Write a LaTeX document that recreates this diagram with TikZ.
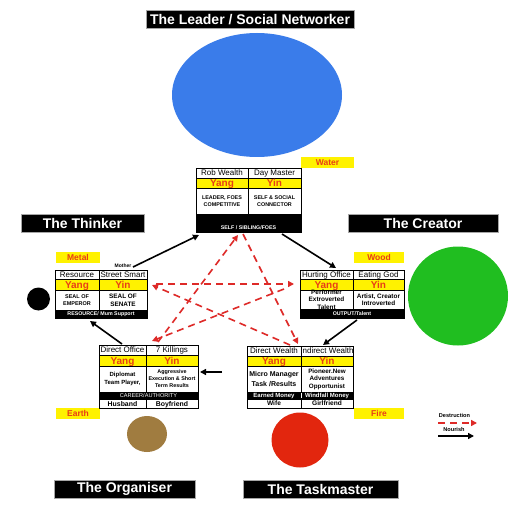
\documentclass[tikz,border=0pt]{standalone}
\usepackage{fontspec}
\setmainfont{Liberation Sans}
\usetikzlibrary{arrows.meta,shapes.geometric}
\definecolor{ylw}{RGB}{255,242,0}
\definecolor{redtxt}{RGB}{232,62,22}
\definecolor{bluec}{RGB}{58,124,234}
\definecolor{greenc}{RGB}{32,190,32}
\definecolor{brownc}{RGB}{160,124,64}
\definecolor{redc}{RGB}{226,38,14}
\definecolor{dashred}{RGB}{222,42,40}
\newcommand\fsz[2]{\fontsize{#1}{#2}\selectfont}
% #1 box style, #2 text style, #3 name, #4 x1, #5 y1, #6 x2, #7 y2, #8 text
\newcommand\tcell[8]{%
  \node[cellbox,#1,minimum width={(#6-#4)*1pt},minimum height={(#7-#5)*1pt}] (#3) at (#4,#5) {};
  \node[celltext,#2] (#3-t) at (#3.center) {#8};}
\tikzset{
  cellbox/.style={draw=black, line width=0.7pt, inner sep=0pt, outer sep=0pt, anchor=north west},
  celltext/.style={inner sep=0pt},
  ml/.style={align=center},
  one/.style={text height=#1, text depth=0pt},
  hdrt/.style={font=\fsz{8}{9}, one=5.8pt},
  yyt/.style={text=redtxt, font=\bfseries\fsz{10}{11}, one=7.2pt},
  foot/.style={text=white, font=\bfseries\fsz{5.3}{6}, one=3.8pt},
  title/.style={fill=black, draw=gray!70, line width=0.5pt, text=white, font=\bfseries\fsz{14}{16}, inner sep=0pt, minimum height=18.5pt},
  lab/.style={fill=ylw, text=redtxt, font=\bfseries\fsz{8.5}{10}, inner sep=0pt, minimum height=11pt},
  blob/.style={ellipse, inner sep=0pt, draw=none},
  nourish/.style={draw=black, line width=1.6pt, -{Triangle[length=6pt,width=6pt]}},
  destroy/.style={draw=dashred, line width=1.6pt, dash pattern=on 7pt off 5pt, -{Triangle[length=6pt,width=6pt]}},
  small/.style={font=\bfseries\fsz{5.6}{6.5}, inner sep=0pt}
}
\begin{document}
\begin{tikzpicture}[x=1pt,y=-1pt]
\fill[white] (0,0) rectangle (531,511);
\useasboundingbox (0,0) rectangle (531,511);

% titles
\node[title, minimum width=208pt] (t-leader) at (250,19.5) {The Leader / Social Networker};
\node[title, minimum width=123pt] (t-thinker) at (82.5,223) {The Thinker};
\node[title, minimum width=150pt] (t-creator) at (423,223) {The Creator};
\node[title, minimum width=141pt] (t-organiser) at (124.5,489) {The Organiser};
\node[title, minimum width=155pt] (t-taskmaster) at (320.5,489) {The Taskmaster};

% coloured blobs
\node[blob, fill=bluec, minimum width=170pt, minimum height=124pt] (c-blue) at (257,95) {};
\node[blob, fill=greenc, minimum width=100pt, minimum height=99pt] (c-green) at (458,296) {};
\node[blob, fill=black, minimum width=23pt, minimum height=23pt] (c-black) at (38.5,299) {};
\node[blob, fill=brownc, minimum width=40pt, minimum height=36pt] (c-brown) at (147,434) {};
\node[blob, fill=redc, minimum width=57pt, minimum height=55pt] (c-red) at (300,440) {};

% element labels
\node[lab, minimum width=53pt] (l-water) at (327.5,162.5) {Water};
\node[lab, minimum width=44pt] (l-metal) at (78,257.5) {Metal};
\node[lab, minimum width=50pt] (l-wood) at (379,257.5) {Wood};
\node[lab, minimum width=44pt] (l-earth) at (78,413.5) {Earth};
\node[lab, minimum width=50pt] (l-fire) at (379,413.5) {Fire};

% Water table
\tcell{}{hdrt}{w-h1}{196}{168}{248}{178}{Rob Wealth}
\tcell{}{hdrt}{w-h2}{248}{168}{301}{178}{Day Master}
\tcell{fill=ylw}{yyt}{w-y1}{196}{178}{248}{188}{Yang}
\tcell{fill=ylw}{yyt}{w-y2}{248}{178}{301}{188}{Yin}
\tcell{}{ml, font=\bfseries\fsz{5.4}{7}}{w-b1}{196}{188}{248}{214}{LEADER, FOES\\COMPETITIVE}
\tcell{}{ml, font=\bfseries\fsz{5.4}{7}}{w-b2}{248}{188}{301}{214}{SELF \& SOCIAL\\CONNECTOR}
\tcell{fill=black}{foot, yshift=-5pt}{w-f}{196}{214}{301}{232}{SELF / SIBLING/FOES}

% Metal table
\tcell{}{hdrt}{m-h1}{55}{270}{99}{279}{Resource}
\tcell{}{hdrt}{m-h2}{99}{270}{147}{279}{Street Smart}
\tcell{fill=ylw}{yyt}{m-y1}{55}{279}{99}{290}{Yang}
\tcell{fill=ylw}{yyt}{m-y2}{99}{279}{147}{290}{Yin}
\tcell{}{ml, font=\bfseries\fsz{5.5}{7}}{m-b1}{55}{290}{99}{310}{SEAL OF\\EMPEROR}
\tcell{}{ml, font=\bfseries\fsz{6.4}{7.6}}{m-b2}{99}{290}{147}{310}{SEAL OF\\SENATE}
\tcell{fill=black}{foot}{m-f}{55}{310}{147}{318}{RESOURCE/ Mum Support}
\node[font=\bfseries\fsz{5}{6}, inner sep=0pt] (mother) at (123,266) {Mother};

% Wood table
\tcell{}{hdrt}{o-h1}{300}{270}{353}{279}{Hurting Office}
\tcell{}{hdrt}{o-h2}{353}{270}{404}{279}{Eating God}
\tcell{fill=ylw}{yyt}{o-y1}{300}{279}{353}{290}{Yang}
\tcell{fill=ylw}{yyt}{o-y2}{353}{279}{404}{290}{Yin}
\tcell{}{ml, font=\bfseries\fsz{6.4}{7.5}}{o-b1}{300}{290}{353}{309}{Performer\\Extroverted\\Talent}
\tcell{}{ml, font=\bfseries\fsz{6.4}{7.5}}{o-b2}{353}{290}{404}{309}{Artist, Creator\\Introverted}
\tcell{fill=black}{foot}{o-f}{300}{309}{404}{318}{OUTPUT/Talent}

% Earth table
\tcell{}{hdrt}{e-h1}{99}{345}{146}{355}{Direct Office}
\tcell{}{hdrt}{e-h2}{146}{345}{198}{355}{7 Killings}
\tcell{fill=ylw}{yyt}{e-y1}{99}{355}{146}{366}{Yang}
\tcell{fill=ylw}{yyt}{e-y2}{146}{355}{198}{366}{Yin}
\tcell{}{ml, font=\bfseries\fsz{6}{7.2}}{e-b1}{99}{366}{146}{392}{Diplomat\\Team Player,}
\tcell{}{ml, font=\bfseries\fsz{5.4}{7}}{e-b2}{146}{366}{198}{392}{Aggressive\\Execution \& Short\\Term Results}
\tcell{fill=black}{text=white, font=\fsz{5.6}{6}, one=4pt}{e-f}{99}{392}{198}{399}{CAREER/AUTHORITY}
\tcell{}{font=\bfseries\fsz{6.9}{8}, one=5pt}{e-w1}{99}{399}{146}{408}{Husband}
\tcell{}{font=\bfseries\fsz{6.9}{8}, one=5pt}{e-w2}{146}{399}{198}{408}{Boyfriend}

% Fire table
\tcell{}{hdrt}{f-h1}{247}{346}{301}{356}{Direct Wealth}
\tcell{}{hdrt}{f-h2}{301}{346}{353}{356}{Indirect Wealth}
\tcell{fill=ylw}{yyt}{f-y1}{247}{356}{301}{366}{Yang}
\tcell{fill=ylw}{yyt}{f-y2}{301}{356}{353}{366}{Yin}
\tcell{}{ml, font=\bfseries\fsz{7}{9.5}}{f-b1}{247}{366}{301}{392}{Micro Manager\\Task /Results}
\tcell{}{ml, font=\bfseries\fsz{6.3}{7.5}}{f-b2}{301}{366}{353}{392}{Pioneer.New\\Adventures\\Opportunist}
\tcell{fill=black}{text=white, font=\bfseries\fsz{6}{7}, one=4.3pt}{f-f1}{247}{392}{301}{399}{Earned Money}
\tcell{fill=black}{text=white, font=\bfseries\fsz{6}{7}, one=4.3pt}{f-f2}{301}{392}{353}{399}{Windfall Money}
\draw[white, line width=0.6pt] (f-f1.north east) ++(0,1) -- ([yshift=0.8pt]f-f1.south east);
\tcell{}{font=\bfseries\fsz{6.6}{8}, one=4.8pt}{f-w1}{247}{399}{301}{408}{Wife}
\tcell{}{font=\bfseries\fsz{6.6}{8}, one=4.8pt}{f-w2}{301}{399}{353}{408}{Girlfriend}

% connector end points
\coordinate (n1a) at (133,267); \coordinate (n1b) at (199,235);
\coordinate (n2a) at (282,234); \coordinate (n2b) at (336,268);
\coordinate (n3a) at (357,320); \coordinate (n3b) at (323,345);
\coordinate (n4a) at (222,372); \coordinate (n4b) at (200,372);
\coordinate (n5a) at (122,344); \coordinate (n5b) at (90,321);
\coordinate (d1a) at (243,234); \coordinate (d1b) at (298,344);
\coordinate (d2a) at (290,345); \coordinate (d2b) at (152,285);
\coordinate (d3a) at (156,284); \coordinate (d3b) at (294,284);
\coordinate (d4a) at (284,289); \coordinate (d4b) at (152,341);
\coordinate (d5a) at (158,342); \coordinate (d5b) at (238,235);

% nourish cycle
\draw[nourish] (n1a) -- (n1b);
\draw[nourish] (n2a) -- (n2b);
\draw[nourish] (n3a) -- (n3b);
\draw[nourish] (n4a) -- (n4b);
\draw[nourish] (n5a) -- (n5b);

% destruction cycle
\draw[destroy] (d1a) -- (d1b);
\draw[destroy] (d2a) -- (d2b);
\draw[destroy] (d3a) -- (d3b);
\draw[destroy] (d4a) -- (d4b);
\draw[destroy] (d5a) -- (d5b);

% legend
\node[small] (lg-dt) at (454.5,415) {Destruction};
\node[small] (lg-nt) at (454,429) {Nourish};
\coordinate (lg-d1) at (438,423); \coordinate (lg-d2) at (477,423);
\coordinate (lg-n1) at (438,436); \coordinate (lg-n2) at (474,436);
\draw[destroy] (lg-d1) -- (lg-d2);
\draw[nourish] (lg-n1) -- (lg-n2);
\end{tikzpicture}
\end{document}
